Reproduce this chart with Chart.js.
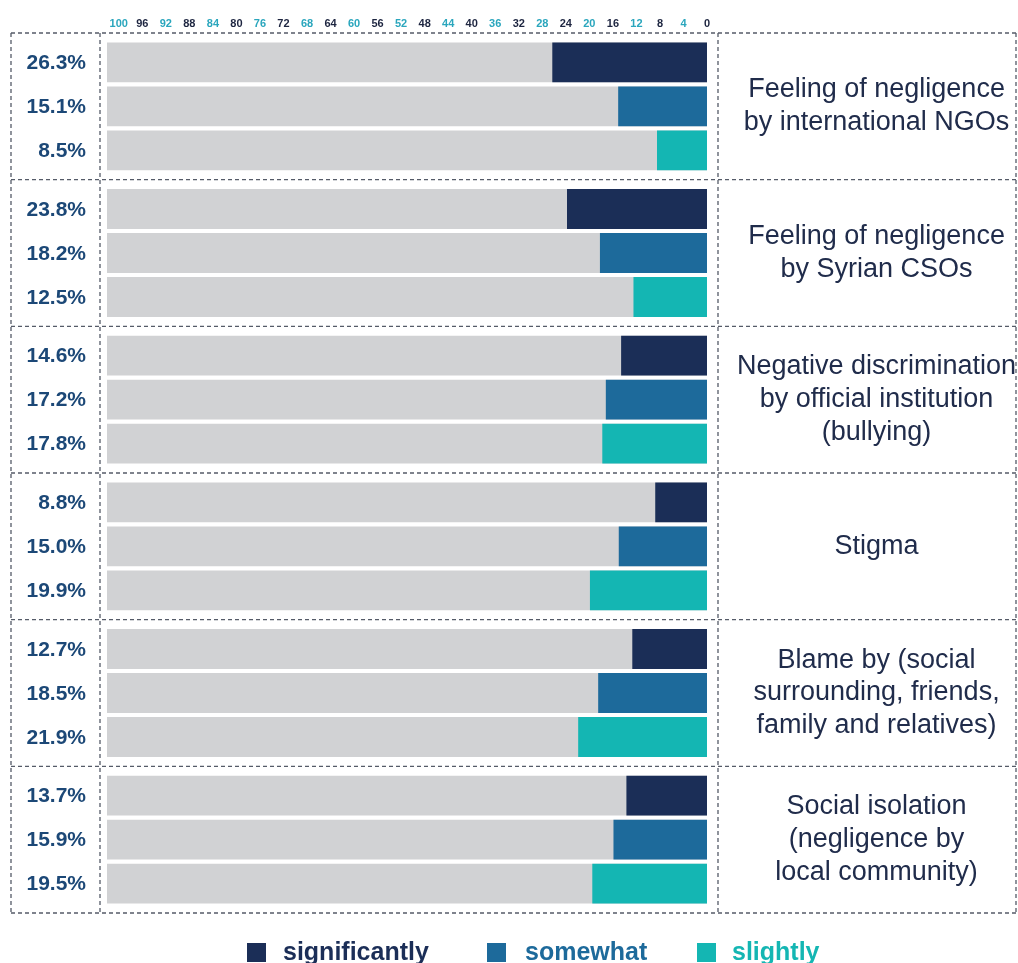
<!DOCTYPE html>
<html>
<head>
<meta charset="utf-8">
<script src="https://cdn.jsdelivr.net/npm/chart.js@4.4.1/dist/chart.umd.min.js"></script>
<style>
  html, body { margin: 0; padding: 0; background: #ffffff; }
  #wrap { position: relative; width: 1018px; height: 963px; }
</style>
</head>
<body>
<div id="wrap"><canvas id="chart"></canvas></div>
<script>
// Problem categories (multi-line labels on the right column)
const categories = [
  ['Feeling of negligence', 'by international NGOs'],
  ['Feeling of negligence', 'by Syrian CSOs'],
  ['Negative discrimination', 'by official institution', '(bullying)'],
  'Stigma',
  ['Blame by (social', 'surrounding, friends,', 'family and relatives)'],
  ['Social isolation', '(negligence by', 'local community)']
];

// Share of respondents (%) per degree
const significantly = [26.3, 23.8, 14.6, 8.8, 12.7, 13.7];
const somewhat      = [15.1, 18.2, 17.2, 15.0, 18.5, 15.9];
const slightly      = [8.5, 12.5, 17.8, 19.9, 21.9, 19.5];

// Full-length grey track behind every bar (axis maximum)
const track = [102, 102, 102, 102, 102, 102];

const seriesNames = ['significantly', 'somewhat', 'slightly'];
const axisMax = 102;
const tickStep = 4;

const FONT = "'Liberation Sans', Arial, Helvetica, sans-serif";
const COLORS = ['#1b2e57', '#1d6a9b', '#14b6b3'];
const GREY = '#d1d2d4';
const TICK_TEAL = '#2aa6bd';
const TICK_DARK = '#1d2540';

const seriesValues = [significantly, somewhat, slightly];

const datasets = [];
seriesValues.forEach((vals, i) => {
  datasets.push({
    label: seriesNames[i],
    data: vals,
    backgroundColor: COLORS[i],
    stack: 's' + i,
    order: 0
  });
});
seriesValues.forEach((vals, i) => {
  datasets.push({
    label: 'track-' + i,
    isTrack: true,
    data: track,
    backgroundColor: GREY,
    stack: 's' + i,
    order: 1
  });
});

// Dashed table frame: outer box, two column dividers, group separators
const framePlugin = {
  id: 'frame',
  afterDraw(chart, args, o) {
    const { ctx, chartArea: a, scales: { y } } = chart;
    const left = a.left - 96, col1 = a.left - 7, col2 = a.right + 11, right = a.right + 309;
    const half = (y.getPixelForValue(1) - y.getPixelForValue(0)) / 2;
    ctx.save();
    ctx.strokeStyle = o.color;
    ctx.lineWidth = o.width;
    ctx.setLineDash(o.dash);
    const line = (x1, y1, x2, y2) => { ctx.beginPath(); ctx.moveTo(x1, y1); ctx.lineTo(x2, y2); ctx.stroke(); };
    const rows = [y.getPixelForValue(0) - half];
    categories.forEach((c, i) => rows.push(y.getPixelForValue(i) + half));
    rows.forEach(yy => line(left, yy, right, yy));
    [left, col1, col2, right].forEach(xx => line(xx, rows[0], xx, rows[rows.length - 1]));
    ctx.restore();
  }
};

// Value labels in the left column, one per coloured bar
const valueLabels = {
  id: 'valueLabels',
  afterDatasetsDraw(chart, args, o) {
    const { ctx, chartArea: a } = chart;
    ctx.save();
    ctx.font = o.font;
    ctx.fillStyle = o.color;
    ctx.textAlign = 'right';
    ctx.textBaseline = 'middle';
    chart.data.datasets.forEach((ds, di) => {
      if (ds.isTrack) return;
      chart.getDatasetMeta(di).data.forEach((bar, i) => {
        ctx.fillText(ds.data[i].toFixed(1) + '%', a.left - 21, bar.y + 1);
      });
    });
    ctx.restore();
  }
};

// Legend row under the table
const legendRow = {
  id: 'legendRow',
  afterDraw(chart, args, o) {
    const { ctx } = chart;
    ctx.save();
    ctx.font = o.font;
    ctx.textAlign = 'left';
    ctx.textBaseline = 'alphabetic';
    const items = chart.data.datasets.filter(ds => !ds.isTrack);
    items.forEach((ds, i) => {
      ctx.fillStyle = ds.backgroundColor;
      ctx.fillRect(o.boxX[i], o.boxTop, o.boxSize, o.boxSize);
      ctx.fillText(ds.label, o.textX[i], o.baseline);
    });
    ctx.restore();
  }
};

new Chart(document.getElementById('chart'), {
  type: 'bar',
  data: { labels: categories, datasets },
  plugins: [framePlugin, valueLabels, legendRow],
  options: {
    indexAxis: 'y',
    responsive: true,
    maintainAspectRatio: false,
    animation: false,
    layout: { padding: { left: 107, right: 0, top: 0, bottom: 50 } },
    datasets: {
      bar: { categoryPercentage: 0.9, barPercentage: 0.905, borderWidth: 0 }
    },
    scales: {
      x: {
        type: 'linear',
        position: 'top',
        reverse: true,
        stacked: false,
        min: 0,
        max: axisMax,
        grid: { display: false, drawTicks: false },
        border: { display: false },
        afterFit(scale) {
          scale.height = 33;
          scale.paddingLeft = 0;
          scale.paddingRight = 0;
        },
        ticks: {
          stepSize: tickStep,
          includeBounds: false,
          autoSkip: false,
          maxRotation: 0,
          padding: 2,
          font: { family: FONT, size: 11, weight: 'bold' },
          color: ctx => (ctx.tick && ctx.tick.value % 8 === 4) ? TICK_TEAL : TICK_DARK
        }
      },
      y: {
        type: 'category',
        position: 'right',
        stacked: true,
        grid: { display: false, drawTicks: false },
        border: { display: false },
        afterFit(scale) {
          scale.width = 311;
          scale.paddingTop = 0;
          scale.paddingBottom = 0;
        },
        ticks: {
          crossAlign: 'center',
          padding: 30,
          color: '#202c4b',
          font: { family: FONT, size: 27, lineHeight: 1.22 }
        }
      }
    },
    plugins: {
      legend: { display: false },
      tooltip: { enabled: false },
      frame: { color: '#555b68', width: 1.3, dash: [4, 3] },
      valueLabels: { font: 'bold 21px ' + FONT, color: '#1c4877' },
      legendRow: {
        font: 'bold 25px ' + FONT,
        boxX: [247, 487, 697],
        textX: [283, 525, 732],
        boxTop: 943,
        boxSize: 19,
        baseline: 960
      }
    }
  }
});
</script>
</body>
</html>
